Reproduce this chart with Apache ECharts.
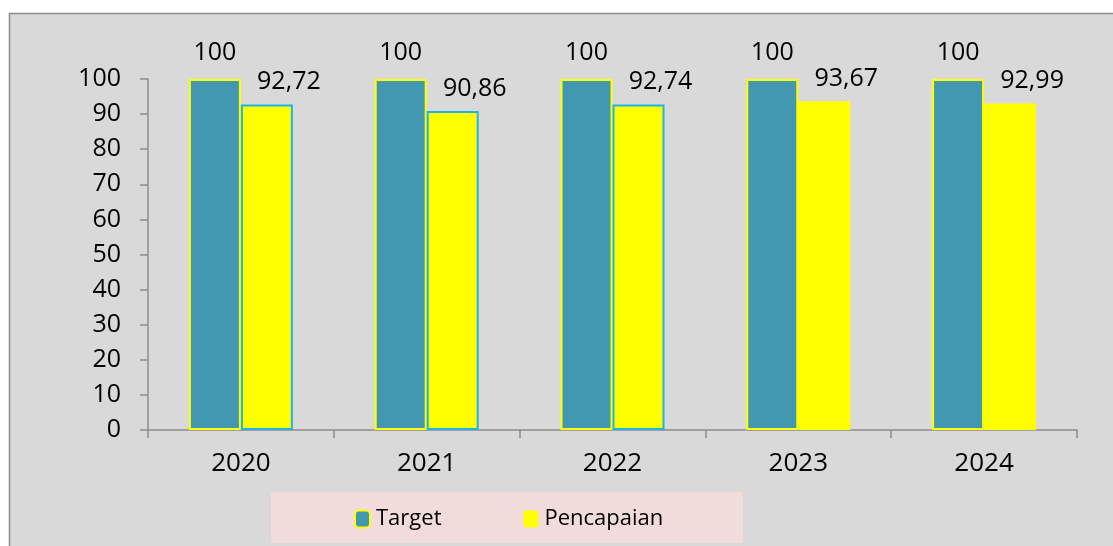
<!DOCTYPE html>
<html>
<head>
    <meta charset="utf-8">
    <title>Target dan Pencapaian</title>
    <script src="https://cdn.jsdelivr.net/npm/echarts@6/dist/echarts.min.js"></script>
    <style>
        html, body { margin: 0; padding: 0; background: #fff; }
    </style>
</head>
<body>
    <div id="main" style="width: 1113px;height:546px;"></div>
    <script type="text/javascript">
        // data
        var years = ['2020', '2021', '2022', '2023', '2024'];
        var target = [100, 100, 100, 100, 100];
        var pencapaian = [92.72, 90.86, 92.74, 93.67, 92.99];
        // which yellow bars have the cyan outline
        var outlined = [true, true, true, false, false];

        var font = '"Open Sans", "Noto Sans", sans-serif';

        function comma(v) {
            return String(v).replace('.', ',');
        }

        var myChart = echarts.init(document.getElementById('main'));

        var option = {
            animation: false,
            textStyle: { fontFamily: font },
            graphic: [{
                type: 'rect',
                z: -10,
                shape: { x: 9.5, y: 13.5, width: 1110, height: 540 },
                style: { fill: '#D9D9D9', stroke: '#8C8C8C', lineWidth: 1.5 }
            }, {
                type: 'rect',
                z: -5,
                shape: { x: 271, y: 492, width: 472, height: 51 },
                style: { fill: '#F2DCDB' }
            }],
            grid: { left: 148, right: 36, top: 79, bottom: 116 },
            legend: {
                left: 349,
                top: 503,
                itemWidth: 15,
                itemHeight: 17,
                itemGap: 82,
                textStyle: { fontSize: 22, color: '#000', fontFamily: font, padding: [0, 0, 0, 1] },
                data: ['Target', 'Pencapaian']
            },
            xAxis: {
                type: 'category',
                data: years,
                axisLine: { lineStyle: { color: '#8C8C8C', width: 1.5 } },
                axisTick: { show: true, length: 8, lineStyle: { color: '#8C8C8C', width: 1.5 } },
                axisLabel: { fontSize: 26, color: '#000', margin: 21 }
            },
            yAxis: {
                type: 'value',
                min: 0,
                max: 100,
                interval: 10,
                axisLine: { show: true, lineStyle: { color: '#8C8C8C', width: 1.5 } },
                axisTick: { show: true, length: 8, lineStyle: { color: '#8C8C8C', width: 1.5 } },
                axisLabel: { fontSize: 25, color: '#000', margin: 27 },
                splitLine: { show: false }
            },
            series: [{
                name: 'Target',
                type: 'bar',
                barWidth: 52,
                barGap: '0%',
                itemStyle: { color: '#4198B0', borderColor: '#FFFF00', borderWidth: 2 },
                label: {
                    show: true,
                    position: 'top',
                    distance: 14,
                    fontSize: 25,
                    color: '#000',
                    formatter: function (p) { return comma(p.value); }
                },
                data: target
            }, {
                name: 'Pencapaian',
                type: 'bar',
                barWidth: 52,
                itemStyle: { color: '#FFFF00' },
                label: {
                    show: true,
                    position: 'top',
                    distance: 10,
                    offset: [22, 0],
                    fontSize: 25,
                    color: '#000',
                    formatter: function (p) { return comma(p.value); }
                },
                data: pencapaian.map(function (v, i) {
                    return outlined[i]
                        ? { value: v, itemStyle: { borderColor: '#1EB4E6', borderWidth: 2 } }
                        : { value: v };
                })
            }]
        };

        myChart.setOption(option);
    </script>
</body>
</html>
